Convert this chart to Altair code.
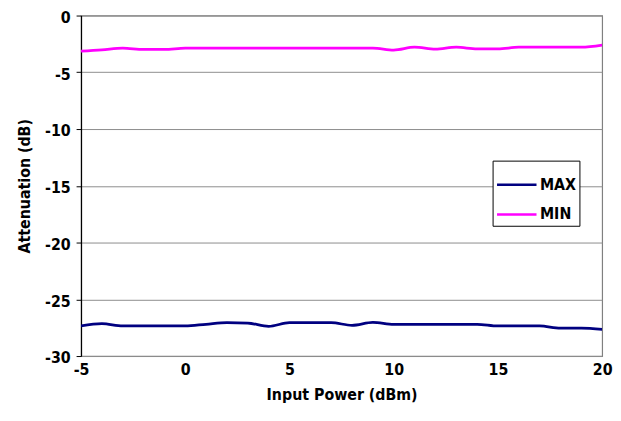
import altair as alt
import pandas as pd

input_power = list(range(-5, 21))
max_atten = [-27.35, -27.15, -27.35, -27.35, -27.35, -27.35, -27.2, -27.06, -27.1, -27.38,
             -27.06, -27.06, -27.06, -27.29, -27.03, -27.2, -27.2, -27.2, -27.2, -27.2,
             -27.35, -27.35, -27.35, -27.55, -27.55, -27.65]
min_atten = [-3.13, -3.02, -2.87, -2.99, -2.99, -2.87, -2.87, -2.87, -2.87, -2.87,
             -2.87, -2.87, -2.87, -2.87, -2.87, -3.04, -2.79, -2.96, -2.79, -2.93,
             -2.93, -2.79, -2.79, -2.79, -2.79, -2.61]
series = ["MAX", "MIN"]
colors = ["#000080", "#FF00FF"]

df = pd.DataFrame({
    "x": input_power * 2,
    "y": max_atten + min_atten,
    "s": ["MAX"] * len(input_power) + ["MIN"] * len(input_power),
})

FONT = "DejaVu Sans Condensed, Liberation Sans, sans-serif"

chart = alt.Chart(df).mark_line(strokeWidth=2.8, interpolate="monotone", clip=True).encode(
    x=alt.X("x:Q", scale=alt.Scale(domain=[-5, 20], nice=False),
            axis=alt.Axis(title="Input Power (dBm)", values=[-5, 0, 5, 10, 15, 20],
                          labelExpr="'' + datum.value",
                          grid=False, ticks=False, domain=False, labelPadding=6,
                          labelFlush=False, titlePadding=9)),
    y=alt.Y("y:Q", scale=alt.Scale(domain=[-30, 0], nice=False),
            axis=alt.Axis(title="Attenuation (dB)", values=[0, -5, -10, -15, -20, -25, -30],
                          labelExpr="'' + datum.value",
                          grid=True, gridColor="#8c8c8c", gridWidth=1,
                          domainColor="#000000", domainWidth=1.2,
                          tickColor="#000000", tickSize=5, labelPadding=6,
                          labelOffset=2, titlePadding=12)),
    color=alt.Color("s:N", scale=alt.Scale(domain=series, range=colors),
                    legend=alt.Legend(title=None, orient="none", legendX=417, legendY=147,
                                      symbolType="stroke", symbolSize=1600,
                                      symbolStrokeWidth=2.5, strokeColor="#000000",
                                      fillColor="#ffffff", padding=3,
                                      labelFontSize=16, labelFont=FONT, labelFontWeight="bold",
                                      labelColor="#000000", rowPadding=0, labelOffset=2)),
).properties(
    width=528, height=345,
    autosize=alt.AutoSizeParams(type="none"),
    padding={"left": 74, "top": 5, "right": 11, "bottom": 51},
).configure_view(
    stroke="#808080", strokeWidth=1.2
).configure_axis(
    labelFont=FONT, labelFontSize=16, labelFontWeight="bold", labelColor="#000000",
    titleFont=FONT, titleFontSize=16, titleFontWeight="bold", titleColor="#000000",
)

chart.save("out.html", embed_options={"renderer": "svg", "actions": False})
